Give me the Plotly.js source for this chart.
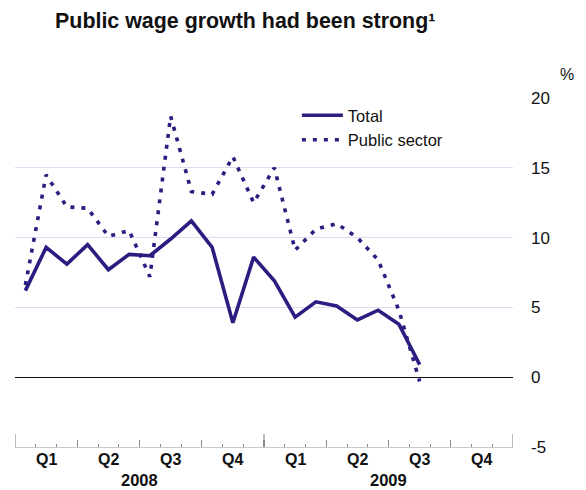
<!DOCTYPE html>
<html>
<head>
<meta charset="utf-8">
<script src="https://cdn.plot.ly/plotly-3.0.1.min.js"></script>
<style>html,body{margin:0;padding:0;background:#fff;}#chart{width:586px;height:490px;}</style>
</head>
<body>
<div id="chart"></div>
<script>
// Months Jan 2008 .. Dec 2009 (axis spans all 24 months)
const months = ["2008-01","2008-02","2008-03","2008-04","2008-05","2008-06","2008-07","2008-08","2008-09","2008-10","2008-11","2008-12",
                "2009-01","2009-02","2009-03","2009-04","2009-05","2009-06","2009-07","2009-08","2009-09","2009-10","2009-11","2009-12"];
const years = ["2008","2009"];
const quarters = ["Q1","Q2","Q3","Q4"];
const totalValues  = [6.2, 9.3, 8.1, 9.5, 7.7, 8.8, 8.7, 9.9, 11.2, 9.3, 3.9, 8.6, 6.9, 4.3, 5.4, 5.1, 4.1, 4.8, 3.8, 0.9];
const publicValues = [6.6, 14.5, 12.2, 12.1, 10.1, 10.5, 7.2, 18.7, 13.3, 13.1, 15.8, 12.5, 15.0, 9.1, 10.6, 11.0, 10.0, 8.4, 4.8, -0.3];
const yTicks = [-5, 0, 5, 10, 15, 20];

const navy = "#2a1e80";
const xTotal = totalValues.map((v, i) => i);
const xPublic = publicValues.map((v, i) => i);

const traces = [
  {x: xTotal, y: totalValues, type: "scatter", mode: "lines", name: "Total",
   line: {color: navy, width: 3.6}, hoverinfo: "skip"},
  {x: xPublic, y: publicValues, type: "scatter", mode: "lines", name: "Public sector",
   line: {color: navy, width: 3.6, dash: "4px,7px"}, hoverinfo: "skip"}
];

const annotations = [];
years.forEach((yr, yi) => {
  quarters.forEach((q, qi) => {
    annotations.push({x: yi * 12 + qi * 3 + 1, xref: "x", y: 0, yref: "paper", yanchor: "top", yshift: -2,
      text: q, showarrow: false, font: {family: "Liberation Sans, Arial, sans-serif", size: 16, color: "#111", weight: "bold"}});
  });
  annotations.push({x: yi * 12 + 5.5, xref: "x", y: 0, yref: "paper", yanchor: "top", yshift: -22,
    text: yr, showarrow: false, font: {family: "Liberation Sans, Arial, sans-serif", size: 16.5, color: "#111", weight: "bold"}});
});
annotations.push({x: 1.108, xref: "paper", y: 1.066, yref: "paper", xanchor: "center", yanchor: "middle",
  text: "%", showarrow: false, font: {family: "Liberation Sans, Arial, sans-serif", size: 16, color: "#111"}});

const shapes = [];
for (let b = 0; b <= years.length; b++) {
  shapes.push({type: "line", xref: "x", yref: "paper", x0: b * 12 - 0.5, x1: b * 12 - 0.5,
    ysizemode: "pixel", yanchor: 0, y0: 0, y1: 13, line: {color: "#8a8a8a", width: 1.2}});
}

const layout = {
  width: 586, height: 490,
  margin: {l: 15, r: 73, t: 98, b: 42.5, pad: 0},
  paper_bgcolor: "#fff", plot_bgcolor: "#fff",
  font: {family: "Liberation Sans, Arial, sans-serif", size: 16, color: "#111"},
  title: {text: "Public wage growth had been strong¹", xref: "container", x: 0.094, xanchor: "left",
    yref: "container", y: 0.958, yanchor: "middle",
    font: {family: "Liberation Sans, Arial, sans-serif", size: 21.4, color: "#111", weight: "bold"}},
  xaxis: {range: [-0.5, months.length - 0.5], showgrid: false, zeroline: false,
    showline: true, linecolor: "#c9c9d4", linewidth: 1.2,
    tickmode: "linear", tick0: -0.5, dtick: 3, ticks: "inside", ticklen: 7.5, tickcolor: "#8a8a8a", tickwidth: 1.2,
    showticklabels: false,
    minor: {tickmode: "linear", tick0: -0.5, dtick: 1, ticks: "inside", ticklen: 3.5, tickcolor: "#8a8a8a", tickwidth: 1, showgrid: false}},
  yaxis: {range: [-5, 20], side: "right", tickmode: "array", tickvals: yTicks, ticktext: yTicks.map(String),
    showgrid: true, gridcolor: "#dedcf0", gridwidth: 1.2,
    zeroline: true, zerolinecolor: "#111", zerolinewidth: 1.2,
    showline: false, ticks: "", ticklabelstandoff: 17,
    tickfont: {family: "Liberation Sans, Arial, sans-serif", size: 17, color: "#111"}},
  showlegend: true,
  legend: {x: 0.566, xanchor: "left", y: 1.0, yanchor: "top", bgcolor: "rgba(0,0,0,0)",
    font: {family: "Liberation Sans, Arial, sans-serif", size: 16.5, color: "#111"},
    itemwidth: 41, tracegroupgap: 0},
  annotations: annotations,
  shapes: shapes,
  hovermode: false
};

Plotly.newPlot("chart", traces, layout, {staticPlot: true, displayModeBar: false});
</script>
</body>
</html>
